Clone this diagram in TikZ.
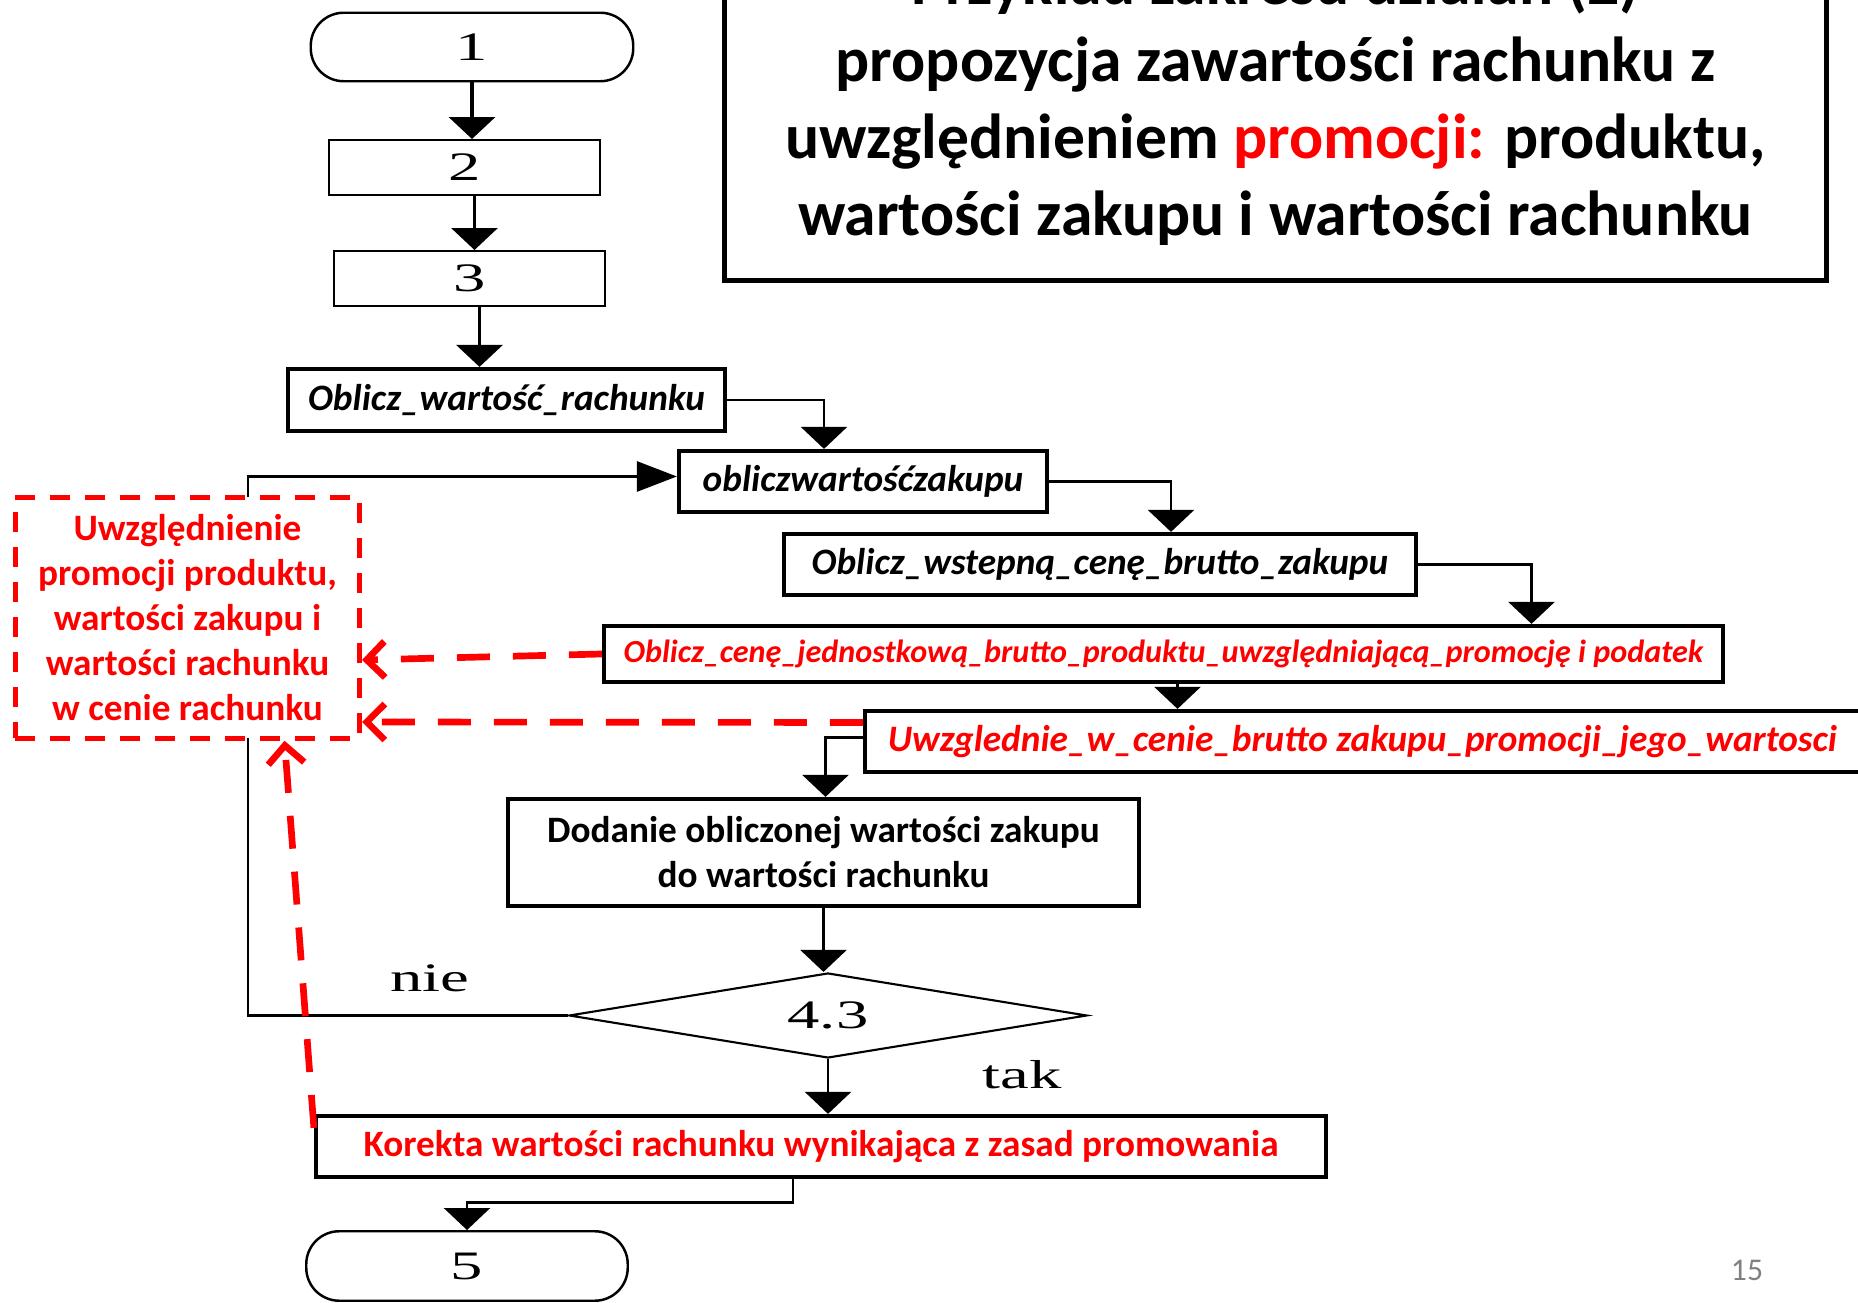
\documentclass[tikz,border=0pt]{standalone}
\usepackage{fontspec}
\setmainfont{Carlito}
\newfontfamily\numfont[FakeStretch=1.6]{Liberation Serif}
\usepackage{xcolor}
\usepackage{tikz}
\usetikzlibrary{positioning,arrows.meta,shapes.geometric}

\begin{document}
\begin{tikzpicture}[
  >=Triangle,
  term/.style={draw, line width=0.7pt, rounded corners=0.33cm, minimum width=3.225cm, minimum height=0.685cm, font=\numfont\fontsize{11.5}{12}\selectfont},
  proc/.style={draw, line width=0.7pt, minimum width=2.705cm, minimum height=0.545cm, font=\numfont\fontsize{11.5}{12}\selectfont},
  fn/.style={draw, line width=1.2pt, minimum height=0.61cm, inner sep=1pt, font=\fontsize{10.6}{12.8}\selectfont\bfseries\itshape},
  cond/.style={draw, diamond, aspect=6, line width=0.6pt, minimum width=5.18cm, minimum height=0.85cm, inner sep=0pt, font=\numfont\fontsize{11.5}{12}\selectfont},
  note/.style={draw=red, fill=white, line width=1.3pt, dash pattern=on 0.2cm off 0.15cm, align=center, text=red, font=\fontsize{10.6}{12.8}\selectfont\bfseries},
  lbl/.style={font=\numfont\fontsize{11.5}{12}\selectfont},
  arr/.style={-{Triangle[width=0.46cm,length=0.22cm]}, line width=0.8pt},
  promarr/.style={-{Straight Barb[length=0.18cm,width=0.36cm]}, red, line width=1.9pt, dash pattern=on 0.33cm off 0.23cm},
]

\useasboundingbox (0,0) rectangle (18.58,-13.03);
\clip (0,0) rectangle (18.58,-13.03);
\fill[white] (0,0) rectangle (18.58,-13.03);

% Title
\node[draw, line width=1.4pt, minimum width=11.02cm, minimum height=3.58cm, align=center,
  font=\fontsize{18.1}{21.9}\selectfont\bfseries] (title) at (12.755,-1.015)
  {Przykład zakresu działań (2)\\propozycja zawartości rachunku z\\uwzględnieniem {\color{red}promocji:} produktu,\\wartości zakupu i wartości rachunku};

% Main flow
\node[term] (start) at (4.72,-0.47) {1};
\node[proc] (step2) at (4.645,-1.675) {2};
\node[proc] (step3) at (4.695,-2.785) {3};
\node[fn, minimum width=4.37cm, minimum height=0.62cm] (rach) at (5.065,-4.00) {Oblicz\_wartość\_rachunku};
\node[fn, minimum width=3.68cm] (zakup) at (8.63,-4.815) {obliczwartośćzakupu};
\node[fn, minimum width=6.32cm] (wstep) at (11.00,-5.645) {Oblicz\_wstepną\_cenę\_brutto\_zakupu};
\node[fn, minimum width=11.19cm, minimum height=0.56cm, text=red, font=\fontsize{9.15}{11}\selectfont\bfseries\itshape]
  (cena) at (11.635,-6.54) {Oblicz\_cenę\_jednostkową\_brutto\_produktu\_uwzględniającą\_promocję i podatek};
\node[fn, minimum width=9.95cm, text=red] (uwzgl) at (13.625,-7.415) {Uwzglednie\_w\_cenie\_brutto zakupu\_promocji\_jego\_wartosci};
\node[fn, minimum width=6.31cm, minimum height=1.07cm, align=center, font=\fontsize{10.6}{12.8}\selectfont\bfseries]
  (dodanie) at (8.235,-8.525) {Dodanie obliczonej wartości zakupu\\do wartości rachunku};
\node[cond] (test) at (8.28,-10.155) {4.3};
\node[fn, minimum width=10.10cm, text=red, font=\fontsize{10.6}{12.8}\selectfont\bfseries]
  (korekta) at (8.21,-11.465) {Korekta wartości rachunku wynikająca z zasad promowania};
\node[term, minimum width=3.215cm, minimum height=0.695cm] (stop) at (4.67,-12.66) {5};

% Labels
\node[lbl] (nie) at (4.30,-9.78) {nie};
\node[lbl] (tak) at (10.22,-10.75) {tak};
\node[font=\fontsize{9}{10}\selectfont, gray] (page) at (17.47,-12.70) {15};

% Arrows
\draw[arr, line width=1.1pt] (start) -- (start |- step2.north);
\draw[arr, line width=1.1pt] ([xshift=1mm]step2.south) -- ([xshift=1mm]step2.south |- step3.north);
\draw[arr, line width=1.1pt] ([xshift=1mm]step3.south) -- ([xshift=1mm]step3.south |- rach.north);
\draw[arr] (rach.east) -| ([xshift=-3.9mm]zakup.north);
\draw[arr] (zakup.east) -| ([xshift=7.1mm]wstep.north);
\draw[arr] (wstep.east) -| ([xshift=36.8mm]cena.north);
\draw[arr] ([xshift=1.4mm]cena.south) -- ([xshift=1.4mm]cena.south |- uwzgl.north);
\draw[arr] ([yshift=0.4mm]uwzgl.west) -| ([xshift=0.2mm]dodanie.north);
\draw[arr] (dodanie.south) -- (dodanie.south |- test.north);
\draw[arr] (test.south) -- (test.south |- korekta.north);
\draw[arr] ([xshift=-2.8mm]korekta.south) -- ++(0,-0.23) -| (stop.north);

% Loop back (nie)
\draw[arr, -{Triangle[width=0.3cm,length=0.4cm]}] (test.west) -- ++(-3.20,0) |- ([yshift=0.5mm]zakup.west);

% Promotion note
\node[note, minimum width=3.445cm, minimum height=2.41cm] (promo) at (1.875,-6.18)
  {Uwzględnienie\\promocji produktu,\\wartości zakupu i\\wartości rachunku\\w cenie rachunku};

\draw[promarr] (cena.west) -- ([yshift=-4.2mm]promo.east);
\draw[promarr] ([yshift=1.9mm]uwzgl.west) -- ([yshift=-10.4mm]promo.east);
\draw[promarr] ([yshift=-1.4mm]korekta.north west) -- ([xshift=9.7mm]promo.south);

\end{tikzpicture}
\end{document}
